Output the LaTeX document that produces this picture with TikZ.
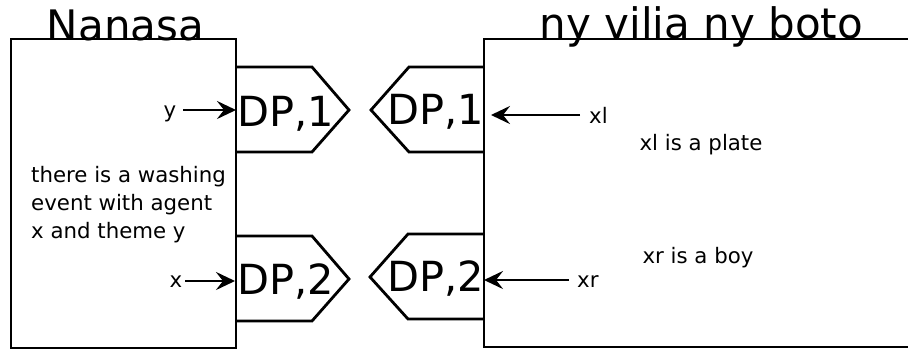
\documentclass[tikz,border=0pt]{standalone}
\usepackage{fontspec}
\setmainfont{DejaVu Sans}
\usetikzlibrary{arrows.meta}
\begin{document}
\begin{tikzpicture}[x=1pt,y=-1pt,
  ln/.style={line width=2.8pt, line join=miter},
  title/.style={font=\fontsize{42}{46}\selectfont, anchor=base, inner sep=0pt},
  dp/.style={font=\fontsize{41.5}{45}\selectfont, anchor=base, inner sep=0pt},
  small/.style={font=\fontsize{21.3}{28}\selectfont, inner sep=0pt},
  arr/.style={line width=2.8pt, -{Stealth[length=19pt,width=18pt,inset=7pt]}}]
\useasboundingbox (0,0) rectangle (908,349);
\fill[white] (0,0) rectangle (908,349);
% left box
\draw[ln] (11,39) rectangle (236,348);
\node[title] (t1) at (125.5,40) {Nanasa};
% right box
\draw[ln] (910,39) -- (484,39) -- (484,347) -- (910,347);
\node[title] (t2) at (701.5,38) {ny vilia ny boto};
% pentagons
\draw[ln] (236,67) -- (312,67) -- (349,110) -- (312,152) -- (236,152);
\draw[ln] (236,236) -- (312,236) -- (349,279) -- (312,321) -- (236,321);
\draw[ln] (484,67) -- (409,67) -- (371,110) -- (409,152) -- (484,152);
\draw[ln] (484,234) -- (408,234) -- (370,277) -- (408,319) -- (484,319);
\node[dp] (dpl1) at (286,126) {DP,1};
\node[dp] (dpl2) at (286,294) {DP,2};
\node[dp] (dpr1) at (436,124) {DP,1};
\node[dp] (dpr2) at (436,291) {DP,2};
% labels
\node[small, anchor=base] (ly) at (170,117) {y};
\node[small, anchor=base] (lx) at (176,287) {x};
\node[small, anchor=base west] (lxl) at (589,123) {xl};
\node[small, anchor=base west] (lxr) at (577,287) {xr};
\node[small, anchor=base] (p1) at (701,150) {xl is a plate};
\node[small, anchor=base] (p2) at (698,263) {xr is a boy};
\node[small, anchor=base west, align=left] (desc) at (31,238) {there is a washing\\event with agent\\x and theme y};
% arrow ends
\coordinate (ey) at (236,110);
\coordinate (ex) at (235,281);
\coordinate (exl) at (491,115);
\coordinate (exr) at (484,280);
\draw[arr] (183,110) -- (ey);
\draw[arr] (185,281) -- (ex);
\draw[arr] (580,115) -- (exl);
\draw[arr] (569,280) -- (exr);
\end{tikzpicture}
\end{document}
